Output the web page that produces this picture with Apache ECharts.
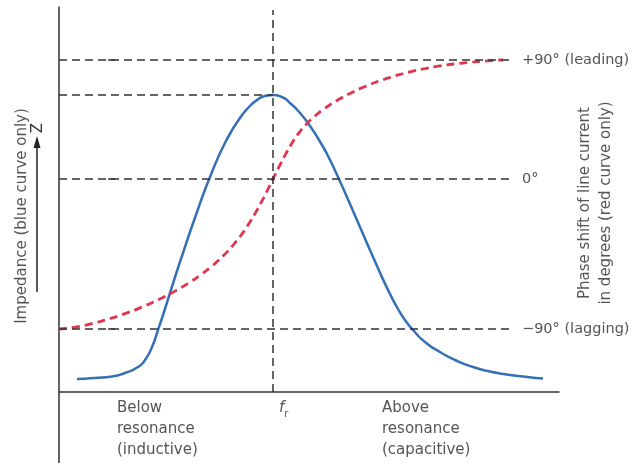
<!DOCTYPE html>
<html>
<head>
<meta charset="utf-8">
<script src="https://cdn.jsdelivr.net/npm/echarts@6/dist/echarts.min.js"></script>
<style>
html,body{margin:0;padding:0;background:#fff;}
#chart{width:641px;height:463px;}
</style>
</head>
<body>
<div id="chart"></div>
<script>
// Horizontal position (0..100 across the frequency axis) and relative heights (axis units)
const impedanceX = [3.6, 7.2, 10.6, 13.2, 15.8, 17.2, 18.6, 19.8, 21.0, 22.2, 23.6, 24.8, 26.2, 27.6, 28.8, 30.2, 31.6, 32.8, 34.4, 36.2, 37.8, 39.6, 41.2, 42.8,
                    44.6, 46.2, 48.2, 50.2, 52.0, 53.6, 55.8, 58.2, 60.8, 63.6, 66.2, 67.8, 69.2, 70.8, 73.2, 76.2, 79.2, 82.8, 86.2, 90.2, 93.6, 96.8];
const impedanceY = [13, 14, 15.5, 19, 25, 32, 45, 62, 80, 99, 121, 139, 160, 180, 197, 215, 232, 245, 260, 274, 284, 292, 296, 297,
                    295, 289, 279, 266, 252, 238, 215, 188, 158, 126, 98, 83, 72, 62, 50, 40, 32, 25, 20.5, 17, 15, 13.5];

const phaseX = [0, 3.2, 6.2, 9.8, 13.2, 16.6, 20.2, 23.2, 26.2, 28.2, 30.2, 31.8, 33.2, 34.6, 36.2, 37.8, 39.2, 40.4, 41.6, 42.8,
                44.0, 45.2, 46.4, 47.8, 49.4, 51.2, 53.2, 55.6, 58.2, 61.2, 64.2, 67.2, 70.2, 73.2, 76.2, 79.2, 82.2, 85.6, 88.8];
const phaseY = [63, 64.9, 67.9, 72.8, 78.4, 85.0, 93.1, 100.9, 109.9, 116.7, 124.3, 131.2, 137.9, 145.5, 155.4, 166.9, 178.4, 189.2, 200.8, 213,
                225.2, 236.7, 247.3, 257.8, 267.4, 276.0, 283.8, 291.5, 298.6, 305.5, 311.3, 316.1, 320.2, 323.4, 326.1, 328.1, 329.7, 331.1, 332];

// phase reference levels (+90, 0, -90) and their labels
const phaseLevels = [332, 213, 63];
const phaseLabels = ['+90\u00b0 (leading)', '0\u00b0', '\u221290\u00b0 (lagging)'];
const peakLevel = 297;
const resonanceX = 42.8;
const rightAxisX = 90.2;

// frequency axis labels
const freqLabelPos = [11.6, 44.0, 64.6];
const freqLabels = ['Below\nresonance\n(inductive)', '{i|f}{s|r}', 'Above\nresonance\n(capacitive)'];

const FONT = 'DejaVu Sans';
const TXT = '#555';
const AX = '#333';

const chart = echarts.init(document.getElementById('chart'), null, {renderer: 'canvas'});

const zip = (a, b) => a.map((v, i) => [v, b[i]]);

const guideData = [];
phaseLevels.forEach(v => guideData.push([{coord: [0, v]}, {coord: [rightAxisX, v]}]));
guideData.push([{coord: [0, peakLevel]}, {coord: [resonanceX, peakLevel]}]);
guideData.push([{coord: [resonanceX, 0]}, {coord: [resonanceX, 382]}]);

const option = {
  animation: false,
  backgroundColor: '#fff',
  grid: {left: 59, right: 82, top: 7, bottom: 0, containLabel: false, outerBoundsMode: 'none'},
  xAxis: {
    type: 'value', min: 0, max: 100, offset: -71,
    axisLine: {onZero: false, lineStyle: {color: AX, width: 1.5}},
    axisTick: {show: false},
    splitLine: {show: false},
    axisLabel: {
      customValues: freqLabelPos,
      formatter: (v) => freqLabels[freqLabelPos.indexOf(v)] || '',
      align: 'left',
      margin: 6,
      color: TXT,
      fontFamily: FONT,
      fontSize: 15,
      lineHeight: 21,
      rich: {
        i: {fontStyle: 'italic', fontFamily: FONT, fontSize: 15, color: TXT},
        s: {fontSize: 10, fontFamily: FONT, color: TXT, verticalAlign: 'bottom', padding: [8, 0, 0, 0]}
      }
    }
  },
  yAxis: [
    {
      type: 'value', min: -71, max: 385,
      axisLine: {show: true, onZero: false, lineStyle: {color: AX, width: 1.5}},
      axisTick: {show: false},
      axisLabel: {show: false},
      splitLine: {show: false}
    },
    {
      type: 'value', min: -71, max: 385, position: 'right', offset: -49,
      axisLine: {show: false},
      axisTick: {show: true, customValues: phaseLevels, length: 7, lineStyle: {color: AX, width: 1.5}},
      axisLabel: {
        customValues: phaseLevels,
        formatter: (v) => phaseLabels[phaseLevels.indexOf(v)] || '',
        margin: 12, color: TXT, fontFamily: FONT, fontSize: 14.5
      },
      splitLine: {show: false}
    }
  ],
  graphic: [
    {type: 'text', x: 22, y: 216, rotation: Math.PI / 2, silent: true,
     style: {text: 'Impedance (blue curve only)', font: '15px "DejaVu Sans"', fill: TXT, align: 'center', verticalAlign: 'middle'}},
    {type: 'text', x: 38, y: 128, rotation: Math.PI / 2, silent: true,
     style: {text: 'Z', font: '15px "DejaVu Sans"', fill: '#333', align: 'center', verticalAlign: 'middle'}},
    {type: 'line', silent: true, shape: {x1: 37, y1: 292, x2: 37, y2: 146}, style: {stroke: '#222', lineWidth: 1.5}},
    {type: 'polygon', silent: true, shape: {points: [[37, 136], [33.5, 148], [40.5, 148]]}, style: {fill: '#222'}},
    {type: 'text', x: 585, y: 203, rotation: Math.PI / 2, silent: true,
     style: {text: 'Phase shift of line current', font: '15px "DejaVu Sans"', fill: TXT, align: 'center', verticalAlign: 'middle'}},
    {type: 'text', x: 606, y: 203, rotation: Math.PI / 2, silent: true,
     style: {text: 'in degrees (red curve only)', font: '15px "DejaVu Sans"', fill: TXT, align: 'center', verticalAlign: 'middle'}}
  ],
  series: [
    {
      name: 'guides', type: 'line', data: [], z: 1, silent: true,
      markLine: {
        symbol: 'none', silent: true, animation: false,
        label: {show: false},
        lineStyle: {type: [8, 5], color: AX, width: 1.5},
        emphasis: {disabled: true},
        data: guideData
      }
    },
    {
      name: 'axisRight', type: 'line', data: [], z: 1, silent: true,
      markLine: {
        symbol: 'none', silent: true, animation: false,
        label: {show: false},
        lineStyle: {type: 'solid', color: AX, width: 1.5},
        emphasis: {disabled: true},
        data: [[{coord: [rightAxisX, 0]}, {coord: [rightAxisX, 387]}]]
      }
    },
    {
      name: 'Impedance', type: 'line', z: 3, smooth: 0.6, showSymbol: false, silent: true,
      clip: false,
      lineStyle: {color: '#3570b5', width: 2.5},
      data: zip(impedanceX, impedanceY)
    },
    {
      name: 'Phase', type: 'line', z: 4, smooth: 0.6, showSymbol: false, silent: true,
      lineStyle: {color: '#e0344f', width: 2.8, type: [8, 5]},
      data: zip(phaseX, phaseY)
    }
  ]
};
chart.setOption(option);
</script>
</body>
</html>
